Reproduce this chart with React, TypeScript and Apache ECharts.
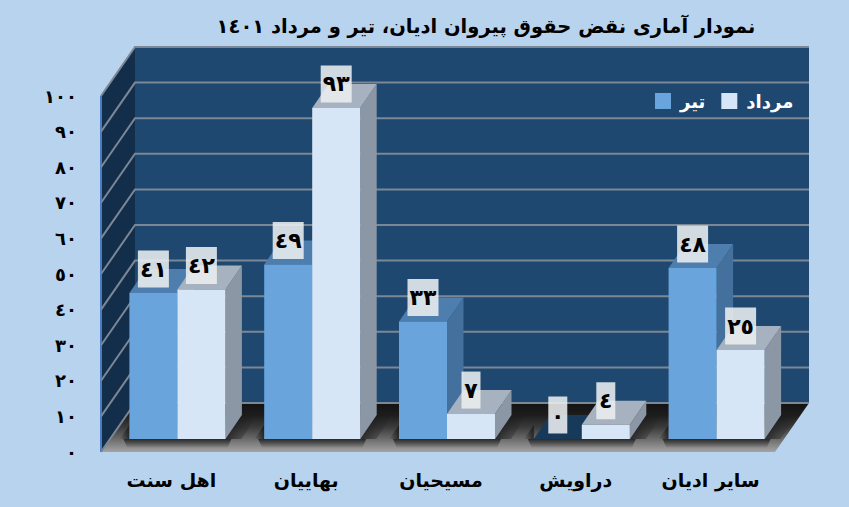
import React, { useEffect, useRef } from "react";
import * as echarts from "echarts";

const title = "نمودار آماری نقض حقوق پیروان ادیان، تیر و مرداد ١٤٠١";
const categories = ["اهل سنت", "بهاییان", "مسیحیان", "دراویش", "سایر ادیان"];
const tirValues = [41, 49, 33, 0, 48];
const mordadValues = [42, 93, 7, 4, 25];
const yTicks = [0, 10, 20, 30, 40, 50, 60, 70, 80, 90, 100];
const seriesNames = ["تیر", "مرداد"];

const FONT = '"DejaVu Sans", sans-serif';
const DIGITS = "٠١٢٣٤٥٦٧٨٩";
const fa = (n: number) => String(n).replace(/\d/g, (d) => DIGITS[+d]);

// Depth of the chart box, of the bars' front plane and of the bars themselves
const WALL = { dx: 34, dy: -49 };
const FRONT = { dx: 9, dy: -13 };
const BAR = { dx: 16.5, dy: -24 };
const BAR_W = 48;

const poly = (points: number[][], fill: any, extra: any = {}) => ({
  type: "polygon",
  shape: { points },
  style: { fill, ...extra },
  silent: true,
});
const strokeLine = (points: number[][], stroke: string, lineWidth = 2) => ({
  type: "polyline",
  shape: { points },
  style: { stroke, lineWidth, fill: "none" },
  silent: true,
});

const frameRender = (params: any, api: any) => {
  const c = params.coordSys;
  const l = c.x, r = c.x + c.width, t = c.y, b = c.y + c.height;
  const floorGrad = new echarts.graphic.LinearGradient(0, 0, 0, 1, [
    { offset: 0, color: "#121212" },
    { offset: 0.25, color: "#1d1d1d" },
    { offset: 0.5, color: "#3c3c3c" },
    { offset: 0.75, color: "#6e6e6e" },
    { offset: 1, color: "#a4a4a4" },
  ]);
  return {
    type: "group",
    children: [
      poly([[l + WALL.dx, t + WALL.dy], [r + WALL.dx, t + WALL.dy], [r + WALL.dx, b + WALL.dy], [l + WALL.dx, b + WALL.dy]], "#1e4870"),
      poly([[l, t], [l + WALL.dx, t + WALL.dy], [l + WALL.dx, b + WALL.dy], [l, b]], "#132e4b"),
      poly([[l, b], [r, b], [r + WALL.dx, b + WALL.dy], [l + WALL.dx, b + WALL.dy]], floorGrad),
      strokeLine([[l, t], [l, b]], "#4a7cc4", 2),
    ],
  };
};

const gridRender = (params: any, api: any) => {
  const c = params.coordSys;
  const y = api.coord([0, api.value(0)])[1];
  const l = c.x, r = c.x + c.width;
  return strokeLine(
    [[l, y], [l + WALL.dx, y + WALL.dy], [r + WALL.dx, y + WALL.dy]],
    "#7c8795",
    2
  );
};

const shadowRender = (params: any, api: any) => {
  // Soft contact shadow round each pair of bars on the floor
  const px = api.coord([api.value(0), 0]);
  const cx = px[0] + FRONT.dx;
  const yb = px[1] + FRONT.dy;
  const x0 = cx - BAR_W;
  const x1 = cx + BAR_W;
  const dark = "rgba(20,20,20,0.75)";
  const none = "rgba(20,20,20,0)";
  const below = new echarts.graphic.LinearGradient(0, 0, 0, 1, [
    { offset: 0, color: dark },
    { offset: 1, color: none },
  ]);
  const left = new echarts.graphic.LinearGradient(0, 0, 1, 0, [
    { offset: 0, color: none },
    { offset: 1, color: dark },
  ]);
  const right = new echarts.graphic.LinearGradient(0, 0, 1, 0, [
    { offset: 0, color: dark },
    { offset: 0.45, color: "rgba(20,20,20,0.35)" },
    { offset: 1, color: none },
  ]);
  const sw = 10;
  const d = BAR;
  return {
    type: "group",
    children: [
      poly([[x0 - 6, yb], [x1 + 6, yb], [x1 + 2, yb + 9], [x0 - 2, yb + 9]], below),
      poly([[x0 - sw, yb], [x0, yb], [x0, yb - 14]], left),
      poly([[x1, yb], [x1 + 16, yb], [x1 + d.dx + 16, yb + d.dy], [x1 + d.dx, yb + d.dy]], right),
    ],
  };
};

const barRender = (seriesIndex: number, colors: any) => (params: any, api: any) => {
  const i = api.value(0);
  const v = api.value(1);
  const top = api.coord([i, v]);
  const base = api.coord([i, 0]);
  const cx = top[0] + FRONT.dx;
  const x0 = seriesIndex === 0 ? cx - BAR_W : cx;
  const x1 = x0 + BAR_W;
  const yt = top[1] + FRONT.dy;
  const yb = base[1] + FRONT.dy;
  const d = BAR;
  const topFill = v === 0 ? "#183a5a" : colors.top;
  const text = fa(v);
  const boxW = 7 + 12 * text.length;
  const boxH = 37;
  const mid = (x0 + x1) / 2;
  return {
    type: "group",
    children: [
      poly([[x1, yb], [x1 + d.dx, yb + d.dy], [x1 + d.dx, yt + d.dy], [x1, yt]], colors.side),
      poly([[x0, yt], [x1, yt], [x1 + d.dx, yt + d.dy], [x0 + d.dx, yt + d.dy]], topFill),
      { type: "rect", shape: { x: x0, y: yt, width: BAR_W, height: yb - yt }, style: { fill: colors.front }, silent: true },
      { type: "rect", shape: { x: mid - boxW / 2, y: yt - 5.5 - boxH, width: boxW, height: boxH }, style: { fill: "rgba(236,238,240,0.88)" }, silent: true },
      {
        type: "text",
        x: mid,
        y: yt - 5.5 - boxH / 2,
        silent: true,
        style: { text, fill: "#000", font: `bold 22px ${FONT}`, align: "center", verticalAlign: "middle" },
      },
    ],
  };
};

const BLUE = { front: "#6aa4dc", top: "#4d7eae", side: "#43709c" };
const PALE = { front: "#d6e6f7", top: "#a6b2bf", side: "#8b97a4" };

export default function App() {
  const ref = useRef<HTMLDivElement>(null);
  useEffect(() => {
    document.body.style.margin = "0";
    const chart = echarts.init(ref.current!, null, { renderer: "svg" });
    chart.setOption({
      animation: false,
      backgroundColor: "#b8d3ee",
      textStyle: { fontFamily: FONT },
      title: {
        text: title,
        left: 481,
        top: 11,
        textAlign: "center",
        textStyle: { fontFamily: FONT, fontWeight: "bold", fontSize: 19.5, color: "#000" },
      },
      grid: { left: 101, right: 74, top: 96, bottom: 55 },
      legend: {
        data: seriesNames,
        left: 650,
        top: 87,
        itemWidth: 16,
        itemHeight: 16,
        itemGap: 16,
        icon: "rect",
        textStyle: { color: "#fff", fontFamily: FONT, fontWeight: "bold", fontSize: 18, padding: [0, 0, 0, 4] },
      },
      xAxis: {
        type: "category",
        data: categories,
        axisLine: { show: false },
        axisTick: { show: false },
        axisLabel: { color: "#000", fontFamily: FONT, fontWeight: "bold", fontSize: 19, margin: 18, padding: [0, 0, 0, 6] },
      },
      yAxis: {
        type: "value",
        min: 0,
        max: 100,
        interval: 10,
        splitLine: { show: false },
        axisLine: { show: false },
        axisTick: { show: false },
        axisLabel: { color: "#000", fontFamily: FONT, fontWeight: "bold", fontSize: 18, margin: 24, formatter: (v: number) => fa(v) },
      },
      series: [
        { name: "frame", type: "custom", silent: true, renderItem: frameRender, data: [[0]], encode: { x: 0 }, z: 1 },
        { name: "gridlines", type: "custom", silent: true, renderItem: gridRender, data: yTicks.map((t) => [t]), encode: { y: 0 }, z: 2 },
        { name: "shadows", type: "custom", silent: true, renderItem: shadowRender, data: categories.map((_, i) => [i]), encode: { x: 0 }, z: 2 },
        {
          name: seriesNames[0],
          type: "custom",
          renderItem: barRender(0, BLUE),
          itemStyle: { color: BLUE.front },
          data: tirValues.map((v, i) => [i, v]),
          encode: { x: 0, y: 1 },
          z: 3,
        },
        {
          name: seriesNames[1],
          type: "custom",
          renderItem: barRender(1, PALE),
          itemStyle: { color: PALE.front },
          data: mordadValues.map((v, i) => [i, v]),
          encode: { x: 0, y: 1 },
          z: 4,
        },
      ],
    });
    return () => chart.dispose();
  }, []);
  return <div ref={ref} style={{ width: 849, height: 507 }} />;
}
